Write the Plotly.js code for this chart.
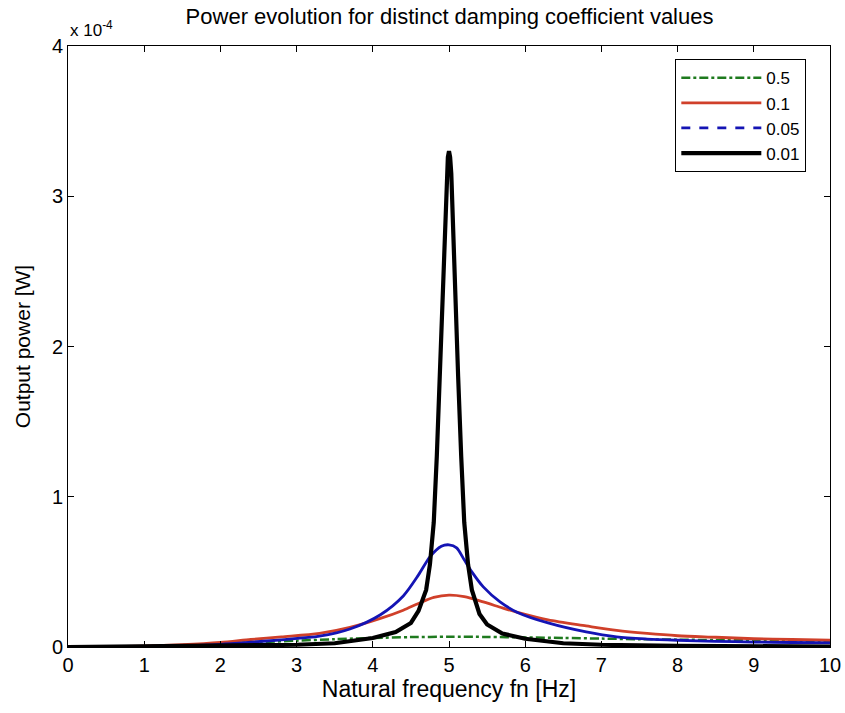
<!DOCTYPE html>
<html>
<head>
<meta charset="utf-8">
<script src="https://cdn.plot.ly/plotly-3.0.1.min.js"></script>
<style>html,body{margin:0;padding:0;background:#fff;}#chart{width:845px;height:713px;}</style>
</head>
<body>
<div id="chart"></div>
<script>
// Output power in units of 1e-4 W
const seriesNames = ["0.5", "0.1", "0.05", "0.01"];

const fnGreen = [0, 0.5, 1, 1.5, 2, 2.5, 3, 3.5, 4, 4.5, 5, 5.5, 6, 6.5, 7, 7.5, 8, 8.5, 9, 9.5, 10];
const pGreen  = [0, 0.001, 0.005, 0.012, 0.022, 0.032, 0.042, 0.052, 0.060, 0.066, 0.068, 0.067, 0.064, 0.060, 0.056, 0.052, 0.049, 0.046, 0.044, 0.042, 0.040];

const fnRed = [0, 0.5, 1, 1.5, 2, 2.4, 2.8, 3.3, 3.7, 4.1, 4.4, 4.6, 4.8, 5.0, 5.2, 5.45, 5.7, 5.9, 6.3, 6.8, 7.2, 7.6, 8, 8.5, 9, 9.5, 10];
const pRed  = [0, 0.002, 0.006, 0.015, 0.030, 0.050, 0.067, 0.090, 0.130, 0.190, 0.245, 0.290, 0.330, 0.345, 0.335, 0.300, 0.260, 0.230, 0.180, 0.140, 0.110, 0.090, 0.075, 0.065, 0.055, 0.050, 0.045];

const fnBlue = [0, 0.5, 1, 1.5, 2, 2.4, 2.8, 3.3, 3.7, 4.1, 4.4, 4.6, 4.75, 4.9, 5.0, 5.1, 5.2, 5.3, 5.45, 5.67, 5.9, 6.3, 6.8, 7.2, 7.6, 8, 8.5, 9, 9.5, 10];
const pBlue  = [0, 0.001, 0.003, 0.008, 0.018, 0.032, 0.048, 0.072, 0.120, 0.215, 0.340, 0.480, 0.600, 0.670, 0.680, 0.660, 0.580, 0.500, 0.400, 0.300, 0.230, 0.160, 0.100, 0.067, 0.053, 0.045, 0.038, 0.033, 0.030, 0.028];

const fnBlack = [0, 1, 2, 3, 3.5, 4.0, 4.3, 4.5, 4.6, 4.7, 4.75, 4.8, 4.84, 4.88, 4.91, 4.94, 4.97, 4.985, 5.0, 5.015, 5.03, 5.06, 5.09, 5.12, 5.16, 5.2, 5.25, 5.3, 5.4, 5.5, 5.7, 6.0, 6.5, 7, 8, 9, 10];
const pBlack  = [0, 0.003, 0.006, 0.015, 0.025, 0.060, 0.100, 0.160, 0.240, 0.380, 0.550, 0.830, 1.270, 1.800, 2.270, 2.760, 3.150, 3.260, 3.300, 3.260, 3.150, 2.760, 2.270, 1.800, 1.270, 0.830, 0.550, 0.380, 0.220, 0.150, 0.090, 0.055, 0.025, 0.015, 0.008, 0.005, 0.003];

const xTicks = [0, 1, 2, 3, 4, 5, 6, 7, 8, 9, 10];
const yTicks = [0, 1, 2, 3, 4];
const yTickText = ["0", "1", "2", "3", "4"];

const font = "Liberation Sans, Arial, sans-serif";
const colors = {g: "#1e7a1e", r: "#d0402a", b: "#1414b4", k: "#000000"};

const traces = [
  {x: fnGreen, y: pGreen, name: seriesNames[0], mode: "lines", line: {color: colors.g, width: 2.5, dash: "dashdot", shape: "spline", smoothing: 0.8}},
  {x: fnRed, y: pRed, name: seriesNames[1], mode: "lines", line: {color: colors.r, width: 2.8, shape: "spline", smoothing: 0.8}},
  // blue curve: dense dashes render as a near-solid line in the plot; legend shows the dashed style
  {x: fnBlue, y: pBlue, name: seriesNames[2], mode: "lines", showlegend: false, legendgroup: "b", line: {color: colors.b, width: 2.8, shape: "spline", smoothing: 0.8}},
  {x: [null], y: [null], name: seriesNames[2], mode: "lines", legendgroup: "b", line: {color: colors.b, width: 2.8, dash: "dash"}},
  {x: fnBlack, y: pBlack, name: seriesNames[3], mode: "lines", line: {color: colors.k, width: 4.2}}
];

const axisCommon = {
  showline: true, linecolor: "#000", linewidth: 1, mirror: "ticks",
  ticks: "inside", ticklen: 6, tickcolor: "#000", showgrid: false, zeroline: false,
  tickfont: {family: font, size: 20, color: "#000"}
};

const layout = {
  width: 845, height: 713,
  paper_bgcolor: "#fff", plot_bgcolor: "#fff",
  margin: {l: 68, r: 15, t: 46, b: 66},
  title: {text: "Power evolution for distinct damping coefficient values", font: {family: font, size: 22, color: "#000"}, x: 0.532, xanchor: "center", y: 0.988, yanchor: "top"},
  xaxis: Object.assign({}, axisCommon, {range: [0, 10], tickvals: xTicks,
    title: {text: "Natural frequency fn [Hz]", font: {family: font, size: 23, color: "#000"}, standoff: 2}}),
  yaxis: Object.assign({}, axisCommon, {range: [0, 4], tickvals: yTicks, ticktext: yTickText,
    title: {text: "Output power [W]", font: {family: font, size: 21, color: "#000"}, standoff: 15}}),
  showlegend: true,
  legend: {x: 0.797, y: 0.978, xanchor: "left", yanchor: "top", bgcolor: "#fff", bordercolor: "#000", borderwidth: 1,
    font: {family: font, size: 17, color: "#000"}, itemwidth: 80, tracegroupgap: 0},
  annotations: [{text: "x 10<sup>-4</sup>", xref: "paper", yref: "paper", x: 0, y: 1, xanchor: "left", yanchor: "bottom", yshift: 4, showarrow: false,
    font: {family: font, size: 17, color: "#000"}}]
};

Plotly.newPlot("chart", traces, layout, {displayModeBar: false});
</script>
</body>
</html>
